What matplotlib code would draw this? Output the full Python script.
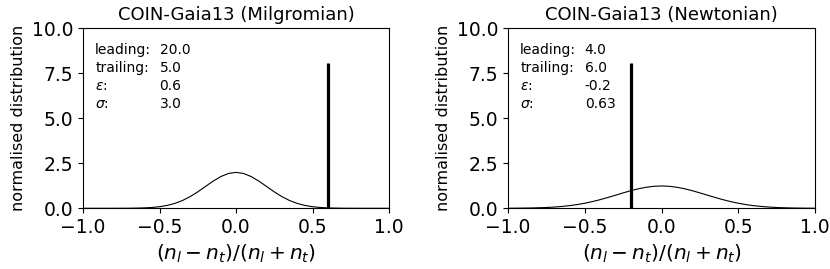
import numpy as np
import matplotlib
matplotlib.use("Agg")
import matplotlib.pyplot as plt

x_grid = [-1.0, -0.95, -0.9, -0.85, -0.8, -0.75, -0.7, -0.65, -0.6, -0.55,
          -0.5, -0.45, -0.4, -0.35, -0.3, -0.25, -0.2, -0.15, -0.1, -0.05,
          0.0, 0.05, 0.1, 0.15, 0.2, 0.25, 0.3, 0.35, 0.4, 0.45,
          0.5, 0.55, 0.6, 0.65, 0.7, 0.75, 0.8, 0.85, 0.9, 0.95, 1.0]

# Milgromian panel curve
milg_y = [0.0, 0.0, 0.0, 0.0, 0.0, 0.002, 0.004, 0.010, 0.022, 0.045,
          0.088, 0.159, 0.27, 0.432, 0.648, 0.913, 1.21, 1.506, 1.76, 1.934,
          1.995, 1.934, 1.76, 1.506, 1.21, 0.913, 0.648, 0.432, 0.27, 0.159,
          0.088, 0.045, 0.022, 0.010, 0.004, 0.002, 0.0, 0.0, 0.0, 0.0, 0.0]

# Newtonian panel curve
newt_y = [0.003, 0.006, 0.010, 0.017, 0.028, 0.044, 0.067, 0.101, 0.146, 0.205,
          0.280, 0.372, 0.479, 0.599, 0.726, 0.855, 0.978, 1.085, 1.168, 1.222,
          1.24, 1.222, 1.168, 1.085, 0.978, 0.855, 0.726, 0.599, 0.479, 0.372,
          0.280, 0.205, 0.146, 0.101, 0.067, 0.044, 0.028, 0.017, 0.010, 0.006, 0.003]

titles = ["COIN-Gaia13 (Milgromian)", "COIN-Gaia13 (Newtonian)"]
epsilons = [0.6, -0.2]
line_heights = [8.1, 8.1]
info_labels = ["leading:", "trailing:", r"$\epsilon$:", r"$\sigma$:"]
info_values = [["20.0", "5.0", "0.6", "3.0"],
               ["4.0", "6.0", "-0.2", "0.63"]]


def main():
    fig = plt.figure(figsize=(8.3, 2.69), dpi=100)
    ax1 = fig.add_axes([0.100, 0.2257, 0.3687, 0.669])
    ax2 = fig.add_axes([0.612, 0.2257, 0.370, 0.669])
    curves = [milg_y, newt_y]

    for i, ax in enumerate([ax1, ax2]):
        ax.plot(x_grid, curves[i], color="black", lw=0.8)
        ax.vlines(epsilons[i], 0, line_heights[i], color="black", lw=2.3)
        ax.set_xlim(-1, 1)
        ax.set_ylim(0, 10)
        ax.set_xticks([-1.0, -0.5, 0.0, 0.5, 1.0])
        ax.set_yticks([0.0, 2.5, 5.0, 7.5, 10.0])
        ax.tick_params(labelsize=13.5)
        ax.set_title(titles[i], fontsize=13)
        ax.set_xlabel(r"$(n_l - n_t)/(n_l + n_t)$", fontsize=14.5)
        ax.set_ylabel("normalised distribution", fontsize=11.5)
        for j in range(4):
            yy = 8.8 - 1.0 * j
            ax.text(-0.92, yy, info_labels[j], fontsize=10, va="center")
            ax.text(-0.5, yy, info_values[i][j], fontsize=10, va="center")

    fig.savefig("out.png", dpi=100)


if __name__ == "__main__":
    main()
